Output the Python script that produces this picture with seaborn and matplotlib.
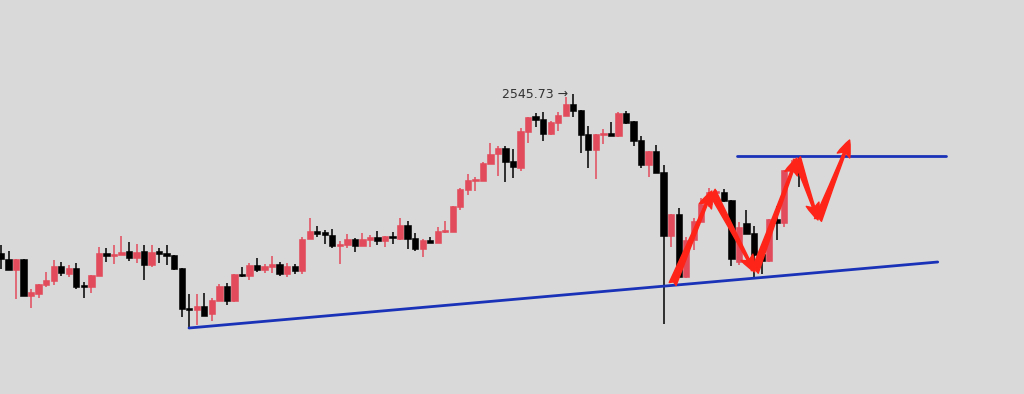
import numpy as np
import pandas as pd
import matplotlib
matplotlib.use("Agg")
import matplotlib.pyplot as plt
import seaborn as sns

# OHLC (one row per candle, left to right)
opens = [2387, 2381, 2370, 2381, 2344, 2346, 2355, 2359, 2374, 2366,
         2372, 2355, 2353, 2364, 2387, 2384, 2385, 2389, 2382, 2389,
         2375, 2389, 2387, 2385, 2372, 2332, 2330, 2334, 2326, 2339,
         2354, 2339, 2366, 2364, 2375, 2370, 2373, 2376, 2366, 2374,
         2369, 2401, 2409, 2408, 2405, 2394, 2395, 2401, 2394, 2400,
         2403, 2399, 2404, 2401, 2415, 2402, 2391, 2400, 2397, 2408,
         2408, 2433, 2450, 2459, 2459, 2476, 2486, 2492, 2479, 2472,
         2508, 2524, 2521, 2506, 2517, 2524, 2536, 2530, 2506, 2490,
         2505, 2507, 2504, 2527, 2519, 2500, 2475, 2489, 2468, 2404,
         2426, 2363, 2400, 2418, 2436, 2447, 2448, 2440, 2378, 2417,
         2407, 2386, 2379, 2421, 2417, 2469, 2473]
highs = [2395, 2389, 2381, 2381, 2351, 2356, 2368, 2380, 2378, 2375,
         2377, 2358, 2365, 2393, 2392, 2395, 2404, 2398, 2396, 2395,
         2395, 2392, 2395, 2385, 2372, 2346, 2346, 2347, 2342, 2356,
         2357, 2366, 2373, 2377, 2382, 2376, 2384, 2378, 2377, 2376,
         2403, 2422, 2414, 2410, 2411, 2399, 2406, 2402, 2407, 2405,
         2409, 2404, 2408, 2422, 2419, 2407, 2401, 2403, 2413, 2419,
         2434, 2452, 2466, 2463, 2478, 2497, 2494, 2494, 2491, 2512,
         2523, 2527, 2528, 2519, 2528, 2543, 2545.73, 2530, 2514, 2506,
         2511, 2518, 2528, 2529, 2519, 2504, 2489, 2495, 2475, 2426,
         2432, 2403, 2422, 2442, 2452, 2450, 2451, 2440, 2418, 2430,
         2414, 2389, 2421, 2434, 2470, 2480, 2484]
lows = [2371, 2370, 2341, 2344, 2332, 2342, 2353, 2355, 2364, 2363,
        2351, 2342, 2347, 2364, 2378, 2376, 2385, 2379, 2377, 2360,
        2373, 2377, 2375, 2370, 2323, 2311, 2315, 2324, 2319, 2339,
        2335, 2338, 2363, 2360, 2368, 2367, 2367, 2364, 2363, 2366,
        2366, 2401, 2403, 2396, 2392, 2376, 2392, 2388, 2394, 2393,
        2395, 2393, 2396, 2400, 2391, 2389, 2383, 2397, 2397, 2407,
        2408, 2430, 2445, 2449, 2459, 2476, 2464, 2458, 2462, 2469,
        2497, 2513, 2499, 2505, 2509, 2524, 2523, 2487, 2472, 2461,
        2496, 2504, 2503, 2516, 2494, 2472, 2463, 2467, 2316, 2393,
        2363, 2362, 2390, 2418, 2433, 2443, 2438, 2374, 2375, 2406,
        2363, 2366, 2378, 2400, 2413, 2468, 2453]
closes = [2381, 2370, 2381, 2344, 2348, 2356, 2360, 2374, 2367, 2372,
          2353, 2353, 2365, 2387, 2384, 2386, 2388, 2382, 2388, 2375,
          2388, 2386, 2384, 2371, 2331, 2330, 2334, 2324, 2340, 2354,
          2339, 2366, 2364, 2375, 2370, 2374, 2376, 2366, 2374, 2369,
          2401, 2409, 2406, 2405, 2394, 2396, 2401, 2394, 2401, 2403,
          2399, 2404, 2402, 2415, 2401, 2391, 2400, 2397, 2409, 2410,
          2434, 2451, 2460, 2461, 2477, 2486, 2492, 2478, 2473, 2509,
          2523, 2520, 2506, 2518, 2525, 2536, 2529, 2505, 2490, 2506,
          2507, 2504, 2527, 2517, 2499, 2475, 2489, 2467, 2404, 2426,
          2363, 2400, 2419, 2436, 2448, 2448, 2439, 2381, 2413, 2406,
          2385, 2379, 2421, 2417, 2470, 2473, 2466]

peak_label = "2545.73"

# support / resistance lines: (candle index, price)
support_x = [24.97, 124.4]
support_y = [2312, 2378]
resist_x = [97.7, 125.5]
resist_y = [2484.5, 2484.5]

# zigzag projection waypoints
zig_x = [89.2, 94.4, 100.1, 105.7, 108.5, 112.7]
zig_y = [2356, 2449, 2368, 2482, 2420, 2500]

BG = "#d9d9d9"
UP = "#e24b5b"
DOWN = "#000000"
BLUE = "#1a32b8"
ARROW = "#ff2418"

sns.set_theme(style="white", rc={"axes.facecolor": BG, "figure.facecolor": BG})

df = pd.DataFrame({"open": opens, "high": highs, "low": lows, "close": closes})
df["idx"] = np.arange(len(df))
df["up"] = df["close"] >= df["open"]
df["color"] = np.where(df["up"], UP, DOWN)

fig = plt.figure(figsize=(10.24, 3.94), dpi=100)
ax = fig.add_axes([0, 0, 1, 1])

# wicks then bodies
ax.vlines(df["idx"], df["low"], df["high"], colors=df["color"], linewidth=1.1, zorder=2)
bottom = df[["open", "close"]].min(axis=1)
height = (df["close"] - df["open"]).abs().clip(lower=1.8)
ax.bar(df["idx"], height, bottom=bottom, width=0.84, color=df["color"],
       edgecolor=df["color"], linewidth=0.4, zorder=3)

# trend lines
sns.lineplot(x=support_x, y=support_y, color=BLUE, linewidth=2.0, ax=ax, zorder=4)
sns.lineplot(x=resist_x, y=resist_y, color=BLUE, linewidth=2.0, ax=ax, zorder=4)

# zigzag arrows (tapered shafts)
for i in range(len(zig_x) - 1):
    ax.annotate("", xy=(zig_x[i + 1], zig_y[i + 1]), xytext=(zig_x[i], zig_y[i]),
                arrowprops=dict(arrowstyle="fancy,head_width=0.8,head_length=1.0,tail_width=0.45",
                                mutation_scale=12, facecolor=ARROW, edgecolor=ARROW,
                                lw=1.0, shrinkA=0, shrinkB=0),
                zorder=5)

# peak label
peak_i = int(np.argmax(highs))
ax.text(peak_i - 0.7, highs[peak_i], peak_label + " \u2192", ha="right", va="center",
        fontsize=9, color="#333333", zorder=6)

ax.set_xlim(-0.133, 135.86)
ax.set_ylim(2246, 2640)
ax.axis("off")

fig.savefig("out.png", dpi=100, facecolor=BG)
plt.close(fig)
